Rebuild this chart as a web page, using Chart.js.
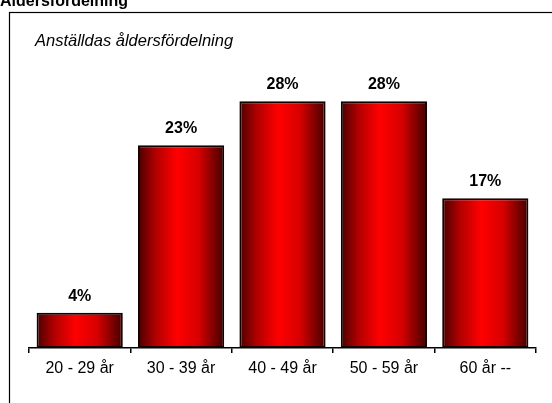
<!DOCTYPE html>
<html>
<head>
<meta charset="utf-8">
<script src="https://cdn.jsdelivr.net/npm/chart.js@4"></script>
<style>
  html, body { margin: 0; padding: 0; background: #fff; }
  #wrap { position: relative; width: 552px; height: 403px; }
</style>
</head>
<body>
<div id="wrap"><canvas id="ageChart"></canvas></div>
<script>
// data
const ageGroups = ['20 - 29 år', '30 - 39 år', '40 - 49 år', '50 - 59 år', '60 år --'];
const sharePercent = [4, 23, 28, 28, 17];
const mainTitle = 'Åldersfördelning';
const subTitle = 'Anställdas åldersfördelning';

// ram + rubriker + procentetiketter
const decorPlugin = {
    id: 'decor',
    beforeDraw(chart) {
        const ctx = chart.ctx;
        ctx.save();
        ctx.strokeStyle = '#000';
        ctx.lineWidth = 1.2;
        ctx.strokeRect(9.5, 12.5, 600, 500);
        ctx.fillStyle = '#000';
        ctx.font = 'bold 16px "Liberation Sans", Arial, sans-serif';
        ctx.textBaseline = 'alphabetic';
        ctx.fillText(mainTitle, 0, 6);
        ctx.font = 'italic 16.5px "Liberation Sans", Arial, sans-serif';
        ctx.fillText(subTitle, 35, 46);
        ctx.restore();
    },
    afterDatasetsDraw(chart) {
        const ctx = chart.ctx;
        const meta = chart.getDatasetMeta(0);
        ctx.save();
        ctx.fillStyle = '#000';
        ctx.font = 'bold 16px "Liberation Sans", Arial, sans-serif';
        ctx.textAlign = 'center';
        ctx.textBaseline = 'alphabetic';
        meta.data.forEach((bar, i) => {
            ctx.fillText(sharePercent[i] + '%', bar.x, bar.y - 12);
        });
        ctx.restore();
    }
};

function barGradient(context) {
    const chart = context.chart;
    const xScale = chart.scales.x;
    if (!xScale || !chart.chartArea) return '#d00000';
    const center = xScale.getPixelForValue(context.dataIndex);
    const half = (xScale.width / ageGroups.length) * 0.85 / 2;
    const g = chart.ctx.createLinearGradient(center - half, 0, center + half, 0);
    g.addColorStop(0, '#4a0000');
    g.addColorStop(0.2, '#b00000');
    g.addColorStop(0.45, '#ff0000');
    g.addColorStop(0.7, '#d80000');
    g.addColorStop(1, '#420000');
    return g;
}

new Chart(document.getElementById('ageChart'), {
    type: 'bar',
    data: {
        labels: ageGroups,
        datasets: [{
            data: sharePercent,
            backgroundColor: barGradient,
            borderColor: '#150000',
            borderWidth: 2,
            borderSkipped: false,
            categoryPercentage: 1,
            barPercentage: 0.85
        }]
    },
    plugins: [decorPlugin],
    options: {
        responsive: true,
        maintainAspectRatio: false,
        animation: false,
        layout: {
            padding: { left: 29, right: 16, top: 66, bottom: 0 }
        },
        plugins: {
            legend: { display: false },
            tooltip: { enabled: false }
        },
        scales: {
            x: {
                afterFit(scale) { scale.height = 55; },
                border: { display: true, color: '#000', width: 1.5 },
                grid: {
                    offset: true,
                    drawOnChartArea: false,
                    drawTicks: true,
                    tickLength: 5,
                    color: '#000',
                    lineWidth: 1.5
                },
                ticks: {
                    color: '#000',
                    padding: 6,
                    font: { family: '"Liberation Sans", Arial, sans-serif', size: 16 }
                }
            },
            y: {
                display: false,
                min: 0,
                max: 32
            }
        }
    }
});
</script>
</body>
</html>
